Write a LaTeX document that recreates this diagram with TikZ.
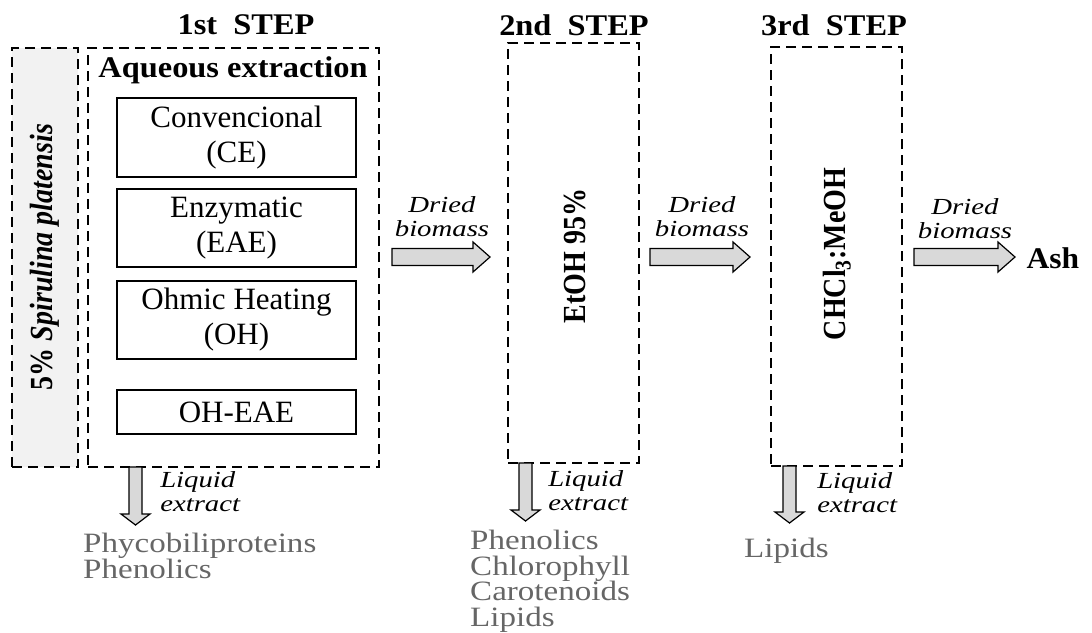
\documentclass[tikz,border=0pt]{standalone}
\usepackage{fontspec}
\setmainfont{Liberation Serif}
\usetikzlibrary{calc}
\definecolor{boxfill}{HTML}{F2F2F2}
\definecolor{arrfill}{HTML}{D9D9D9}
\definecolor{listgray}{HTML}{666666}
\tikzset{
  dbox/.style={draw, line width=1.2pt, dash pattern=on 10pt off 6pt, inner sep=0pt},
  mbox/.style={draw, line width=1.1pt, minimum width=239pt, inner sep=0pt, align=center, font=\fontsize{31}{35}\selectfont},
  steptitle/.style={font=\bfseries\fontsize{30}{32}\selectfont, xscale=1.08},
  vtxt/.style={font=\bfseries\fontsize{28}{30}\selectfont, xscale=1.15, rotate=90},
  lab/.style={font=\itshape\fontsize{23}{24}\selectfont, xscale=1.25, inner sep=0pt},
  listtxt/.style={font=\fontsize{28}{25.5}\selectfont, text=listgray, xscale=1.18, align=left, inner sep=0pt, anchor=north west},
  fat/.style={draw, line width=1.2pt, fill=arrfill, line join=miter}
}
\newcommand\hfat[2]{\draw[fat] let \p1=(#1), \p2=(#2) in
  (\x1,\y1+8.5pt) -- (\x2-17pt,\y1+8.5pt) -- (\x2-17pt,\y1+15pt) -- (\x2,\y1)
  -- (\x2-17pt,\y1-15pt) -- (\x2-17pt,\y1-8.5pt) -- (\x1,\y1-8.5pt) -- cycle;}
\newcommand\vfat[2]{\draw[fat] let \p1=(#1), \p2=(#2) in
  (\x1-6.5pt,\y1) -- (\x1-6.5pt,\y2+11pt) -- (\x1-14.5pt,\y2+11pt) -- (\x1,\y2)
  -- (\x1+14.5pt,\y2+11pt) -- (\x1+6.5pt,\y2+11pt) -- (\x1+6.5pt,\y1) -- cycle;}
\begin{document}
\begin{tikzpicture}[x=1pt,y=-1pt]
\useasboundingbox (0,0) rectangle (1092,632);
% dashed frames
\node[dbox, fill=boxfill, minimum width=66pt, minimum height=419pt] (sp) at (45,257.5) {};
\node[dbox, minimum width=291pt, minimum height=419pt] (s1) at (233.5,257.5) {};
\node[dbox, minimum width=131pt, minimum height=420pt] (s2) at (573.5,253) {};
\node[dbox, minimum width=131pt, minimum height=419pt] (s3) at (836.5,256.5) {};
% vertical texts
\node[vtxt] (spt) at (45,257) {5\% \itshape Spirulina platensis};
\node[vtxt] (et) at (575,256) {EtOH 95\%};
\node[vtxt] (ch) at (837,254) {CHCl\textsubscript{3}:MeOH};
% titles
\node[steptitle] (t1) at (246,25) {1st\ \ STEP};
\node[steptitle] (t2) at (574,25) {2nd\ \ STEP};
\node[steptitle] (t3) at (834,25) {3rd\ \ STEP};
\node[font=\bfseries\fontsize{30}{32}\selectfont, xscale=1.08] (aq) at (233,70) {Aqueous extraction};
% inner boxes
\node[mbox, minimum height=79pt] (ce) at (236.5,137.5) {Convencional\\(CE)};
\node[mbox, minimum height=78pt] (eae) at (236.5,228) {Enzymatic\\(EAE)};
\node[mbox, minimum height=78pt] (oh) at (236.5,320) {Ohmic Heating\\(OH)};
\node[mbox, minimum height=44pt] (oheae) at (236.5,412) {OH-EAE};
% horizontal fat arrows
\coordinate (h1s) at (392,257); \coordinate (h1e) at (490,257);
\coordinate (h2s) at (650,257); \coordinate (h2e) at (750,257);
\coordinate (h3s) at (914,257); \coordinate (h3e) at (1015,257);
\hfat{h1s}{h1e}
\hfat{h2s}{h2e}
\hfat{h3s}{h3e}
\node[lab, align=center, anchor=north] (d1) at (442,196) {Dried\\biomass};
\node[lab, align=center, anchor=north] (d2) at (702,196) {Dried\\biomass};
\node[lab, align=center, anchor=north] (d3) at (965,198) {Dried\\biomass};
\node[font=\bfseries\fontsize{30}{32}\selectfont, anchor=west, xscale=1.05] (ash) at (1023,258) {Ash};
% vertical fat arrows
\coordinate (v1s) at (135.5,467); \coordinate (v1e) at (135.5,525);
\coordinate (v2s) at (525.5,463); \coordinate (v2e) at (525.5,521);
\coordinate (v3s) at (789.5,466); \coordinate (v3e) at (789.5,523);
\vfat{v1s}{v1e}
\vfat{v2s}{v2e}
\vfat{v3s}{v3e}
\node[lab, align=left, anchor=north west] (l1) at (160,471) {Liquid\\extract};
\node[lab, align=left, anchor=north west] (l2) at (548,470) {Liquid\\extract};
\node[lab, align=left, anchor=north west] (l3) at (817,472) {Liquid\\extract};
% products
\node[listtxt] (p1) at (83,533) {Phycobiliproteins\\Phenolics};
\node[listtxt] (p2) at (470,530) {Phenolics\\Chlorophyll\\Carotenoids\\Lipids};
\node[listtxt] (p3) at (744,538) {Lipids};
\end{tikzpicture}
\end{document}
